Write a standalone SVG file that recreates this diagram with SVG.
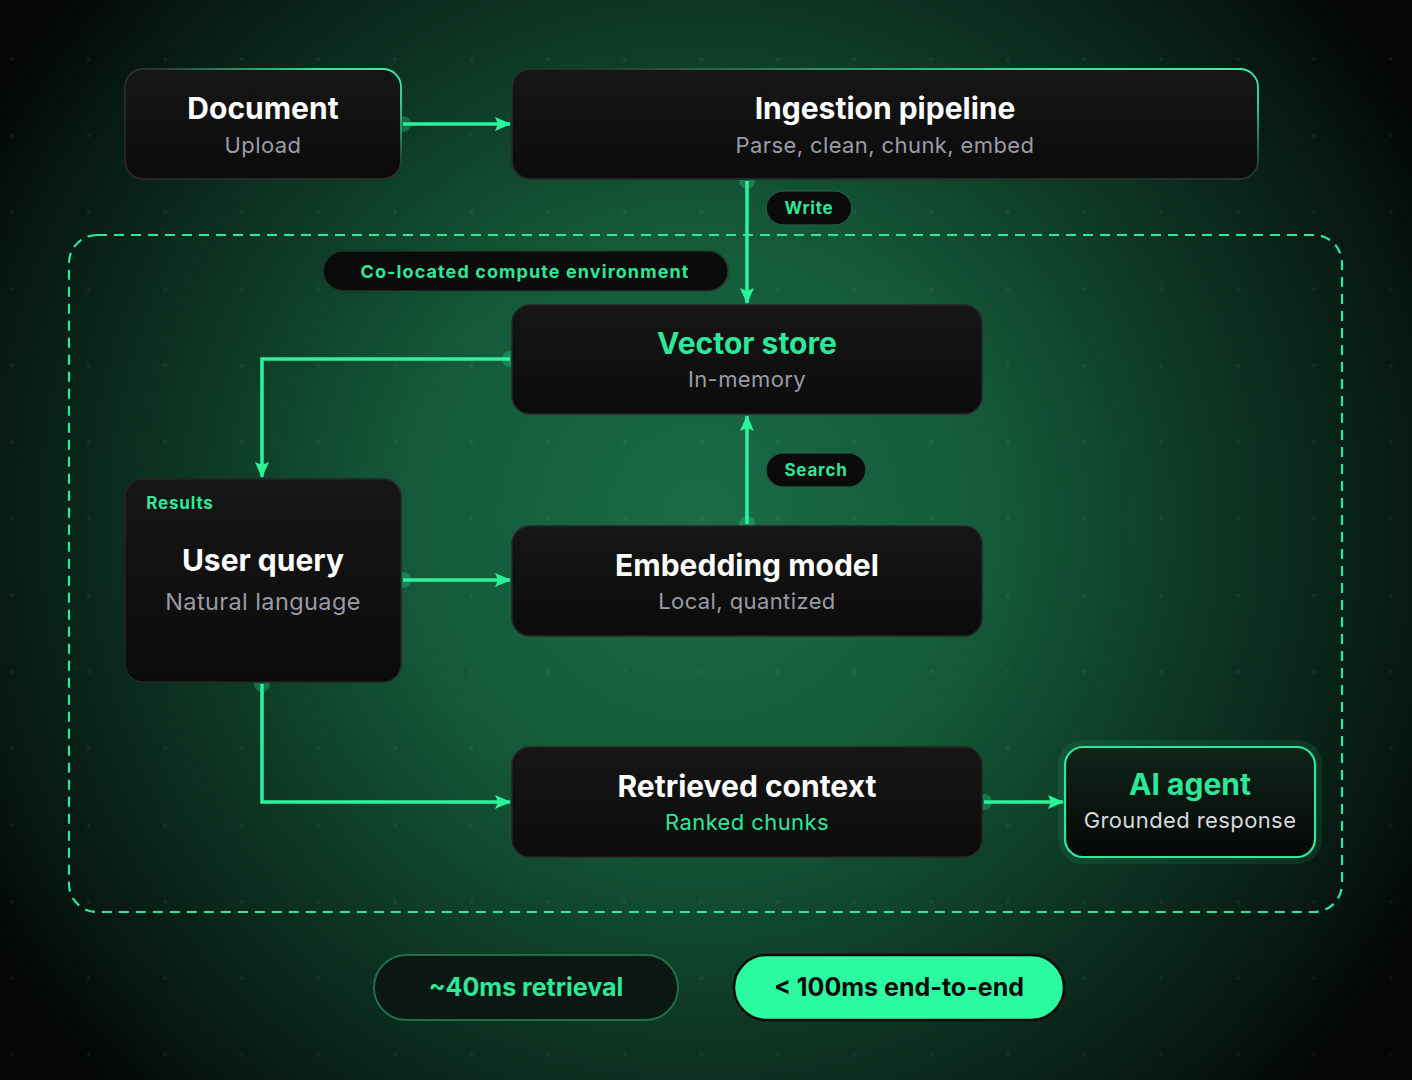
<svg xmlns="http://www.w3.org/2000/svg" width="1412" height="1080" viewBox="0 0 1412 1080">
<defs>
  <radialGradient id="bg" cx="700" cy="520" r="820" gradientUnits="userSpaceOnUse">
    <stop offset="0" stop-color="#1a6b47"/>
    <stop offset="0.35" stop-color="#145a3a"/>
    <stop offset="0.65" stop-color="#0c3322"/>
    <stop offset="0.9" stop-color="#061510"/>
    <stop offset="1" stop-color="#030605"/>
  </radialGradient>
  <pattern id="dots" x="12" y="59" width="76.6" height="76.6" patternUnits="userSpaceOnUse">
    <circle cx="0" cy="0" r="2" fill="#ffffff" fill-opacity="0.05"/>
    <circle cx="76.6" cy="0" r="2" fill="#ffffff" fill-opacity="0.05"/>
    <circle cx="0" cy="76.6" r="2" fill="#ffffff" fill-opacity="0.05"/>
    <circle cx="76.6" cy="76.6" r="2" fill="#ffffff" fill-opacity="0.05"/>
  </pattern>
  <linearGradient id="nodeFill" x1="0" y1="0" x2="0" y2="1">
    <stop offset="0" stop-color="#161616"/>
    <stop offset="1" stop-color="#0b0b0b"/>
  </linearGradient>
  <linearGradient id="agentFill" x1="0" y1="0" x2="0" y2="1">
    <stop offset="0" stop-color="#0f2419"/>
    <stop offset="1" stop-color="#050706"/>
  </linearGradient>
  <linearGradient id="edgeGlow" x1="0" y1="1" x2="1" y2="0">
    <stop offset="0" stop-color="#262626"/>
    <stop offset="0.55" stop-color="#27332d"/>
    <stop offset="0.85" stop-color="#2fe39a"/>
    <stop offset="1" stop-color="#3af0a5"/>
  </linearGradient>
  <marker id="arr" viewBox="0 0 16 14" refX="15" refY="7" markerWidth="16" markerHeight="14" markerUnits="userSpaceOnUse" orient="auto">
    <path d="M0,0 L16,7 L0,14 L3,7 z" fill="#2bf39c"/>
  </marker>
  <style>
    .node{fill:url(#nodeFill);stroke:#262626;stroke-width:1.5}
    .glow{fill:url(#nodeFill);stroke:url(#edgeGlow);stroke-width:1.8}
    .title{font-family:Inter,"Liberation Sans",sans-serif;font-weight:700;font-size:30px;fill:#ffffff;text-anchor:middle;dominant-baseline:central}
    .gtitle{fill:#2ee89a}
    .sub{font-family:Inter,"Liberation Sans",sans-serif;font-size:22px;fill:#9b9ba6;text-anchor:middle;dominant-baseline:central;letter-spacing:0.4px}
    .pill{fill:#0b0b0b;stroke:#1e5a3f;stroke-width:1.5}
    .plabel{font-family:Inter,"Liberation Sans",sans-serif;font-weight:700;font-size:17px;fill:#2ee89a;text-anchor:middle;dominant-baseline:central;letter-spacing:0.8px}
    .edge{fill:none;stroke:#2bf39c;stroke-width:3.5}
    .dot{fill:#2bf39c;fill-opacity:0.28}
  </style>
</defs>

<rect x="0" y="0" width="1412" height="1080" fill="url(#bg)"/>
<rect x="0" y="0" width="1412" height="1080" fill="url(#dots)"/>

<g id="region">
  <rect x="69" y="235" width="1273" height="677" rx="28" fill="none" stroke="#2ee89a" stroke-width="2.2" stroke-dasharray="10 7"/>
  <g id="region-label">
    <rect x="323" y="251" width="405" height="40" rx="20" fill="#0b0b0b" stroke="#1b3a2c" stroke-width="1.5"/>
    <text x="525" y="271" class="plabel" style="font-size:18px;letter-spacing:1.1px">Co-located compute environment</text>
  </g>
</g>

<g id="connectors">
  <circle class="dot" cx="403" cy="124" r="8"/>
  <path class="edge" d="M403,124 H510" marker-end="url(#arr)"/>
  <circle class="dot" cx="747" cy="181" r="8"/>
  <path class="edge" d="M747,181 V303" marker-end="url(#arr)"/>
  <circle class="dot" cx="510" cy="359" r="8"/>
  <path class="edge" d="M510,359 H262 V477" marker-end="url(#arr)"/>
  <circle class="dot" cx="403" cy="580" r="8"/>
  <path class="edge" d="M403,580 H510" marker-end="url(#arr)"/>
  <circle class="dot" cx="747" cy="524" r="8"/>
  <path class="edge" d="M747,524 V416" marker-end="url(#arr)"/>
  <circle class="dot" cx="262" cy="684" r="8"/>
  <path class="edge" d="M262,684 V802 H510" marker-end="url(#arr)"/>
  <circle class="dot" cx="984" cy="802" r="8"/>
  <path class="edge" d="M984,802 H1063" marker-end="url(#arr)"/>
  <g id="label-write">
    <rect x="766" y="191" width="86" height="34" rx="17" class="pill"/>
    <text x="809" y="208" class="plabel">Write</text>
  </g>
  <g id="label-search">
    <rect x="766" y="453" width="100" height="34" rx="17" class="pill"/>
    <text x="816" y="470" class="plabel">Search</text>
  </g>
</g>

<g id="node-document">
  <rect x="125" y="69" width="276" height="110" rx="18" class="glow"/>
  <text x="263" y="108" class="title">Document</text>
  <text x="263" y="145" class="sub">Upload</text>
</g>

<g id="node-ingestion">
  <rect x="512" y="69" width="746" height="110" rx="18" class="glow"/>
  <text x="885" y="108" class="title">Ingestion pipeline</text>
  <text x="885" y="145" class="sub">Parse, clean, chunk, embed</text>
</g>

<g id="node-vector-store">
  <rect x="512" y="305" width="470" height="109" rx="18" class="node"/>
  <text x="747" y="343" class="title gtitle">Vector store</text>
  <text x="747" y="379" class="sub">In-memory</text>
</g>

<g id="node-user-query">
  <rect x="125" y="479" width="276" height="203" rx="18" class="node"/>
  <text x="263" y="560" class="title">User query</text>
  <text x="263" y="601" class="sub" style="font-size:23.5px">Natural language</text>
</g>

<g id="node-embedding">
  <rect x="512" y="526" width="470" height="110" rx="18" class="node"/>
  <text x="747" y="565" class="title">Embedding model</text>
  <text x="747" y="601" class="sub">Local, quantized</text>
</g>

<g id="node-retrieved">
  <rect x="512" y="747" width="470" height="110" rx="18" class="node"/>
  <text x="747" y="786" class="title">Retrieved context</text>
  <text x="747" y="822" class="sub" style="fill:#2ee89a">Ranked chunks</text>
</g>

<g id="node-ai-agent">
  <rect x="1061" y="743" width="258" height="118" rx="22" fill="none" stroke="#2ee89a" stroke-opacity="0.1" stroke-width="6"/>
  <rect x="1065" y="747" width="250" height="110" rx="18" fill="url(#agentFill)" stroke="#2ee89a" stroke-width="2.2"/>
  <text x="1190" y="784" class="title gtitle">AI agent</text>
  <text x="1190" y="820" class="sub" style="fill:#d8d8dc">Grounded response</text>
</g>

<g id="label-results">
  <text x="180" y="503" class="plabel">Results</text>
</g>

<g id="stat-retrieval">
  <rect x="374" y="955" width="304" height="65" rx="32.5" fill="#0b1712" stroke="#1f6e4a" stroke-width="2"/>
  <text x="526" y="987" class="title" style="font-size:25px;fill:#2ee89a">~40ms retrieval</text>
</g>

<g id="stat-end-to-end">
  <rect x="734" y="955" width="330" height="65" rx="32.5" fill="#2bfca0" stroke="#0a0a0a" stroke-width="2.5"/>
  <text x="899" y="987" class="title" style="font-size:25px;fill:#0a0a0a">&lt; 100ms end-to-end</text>
</g>
</svg>
